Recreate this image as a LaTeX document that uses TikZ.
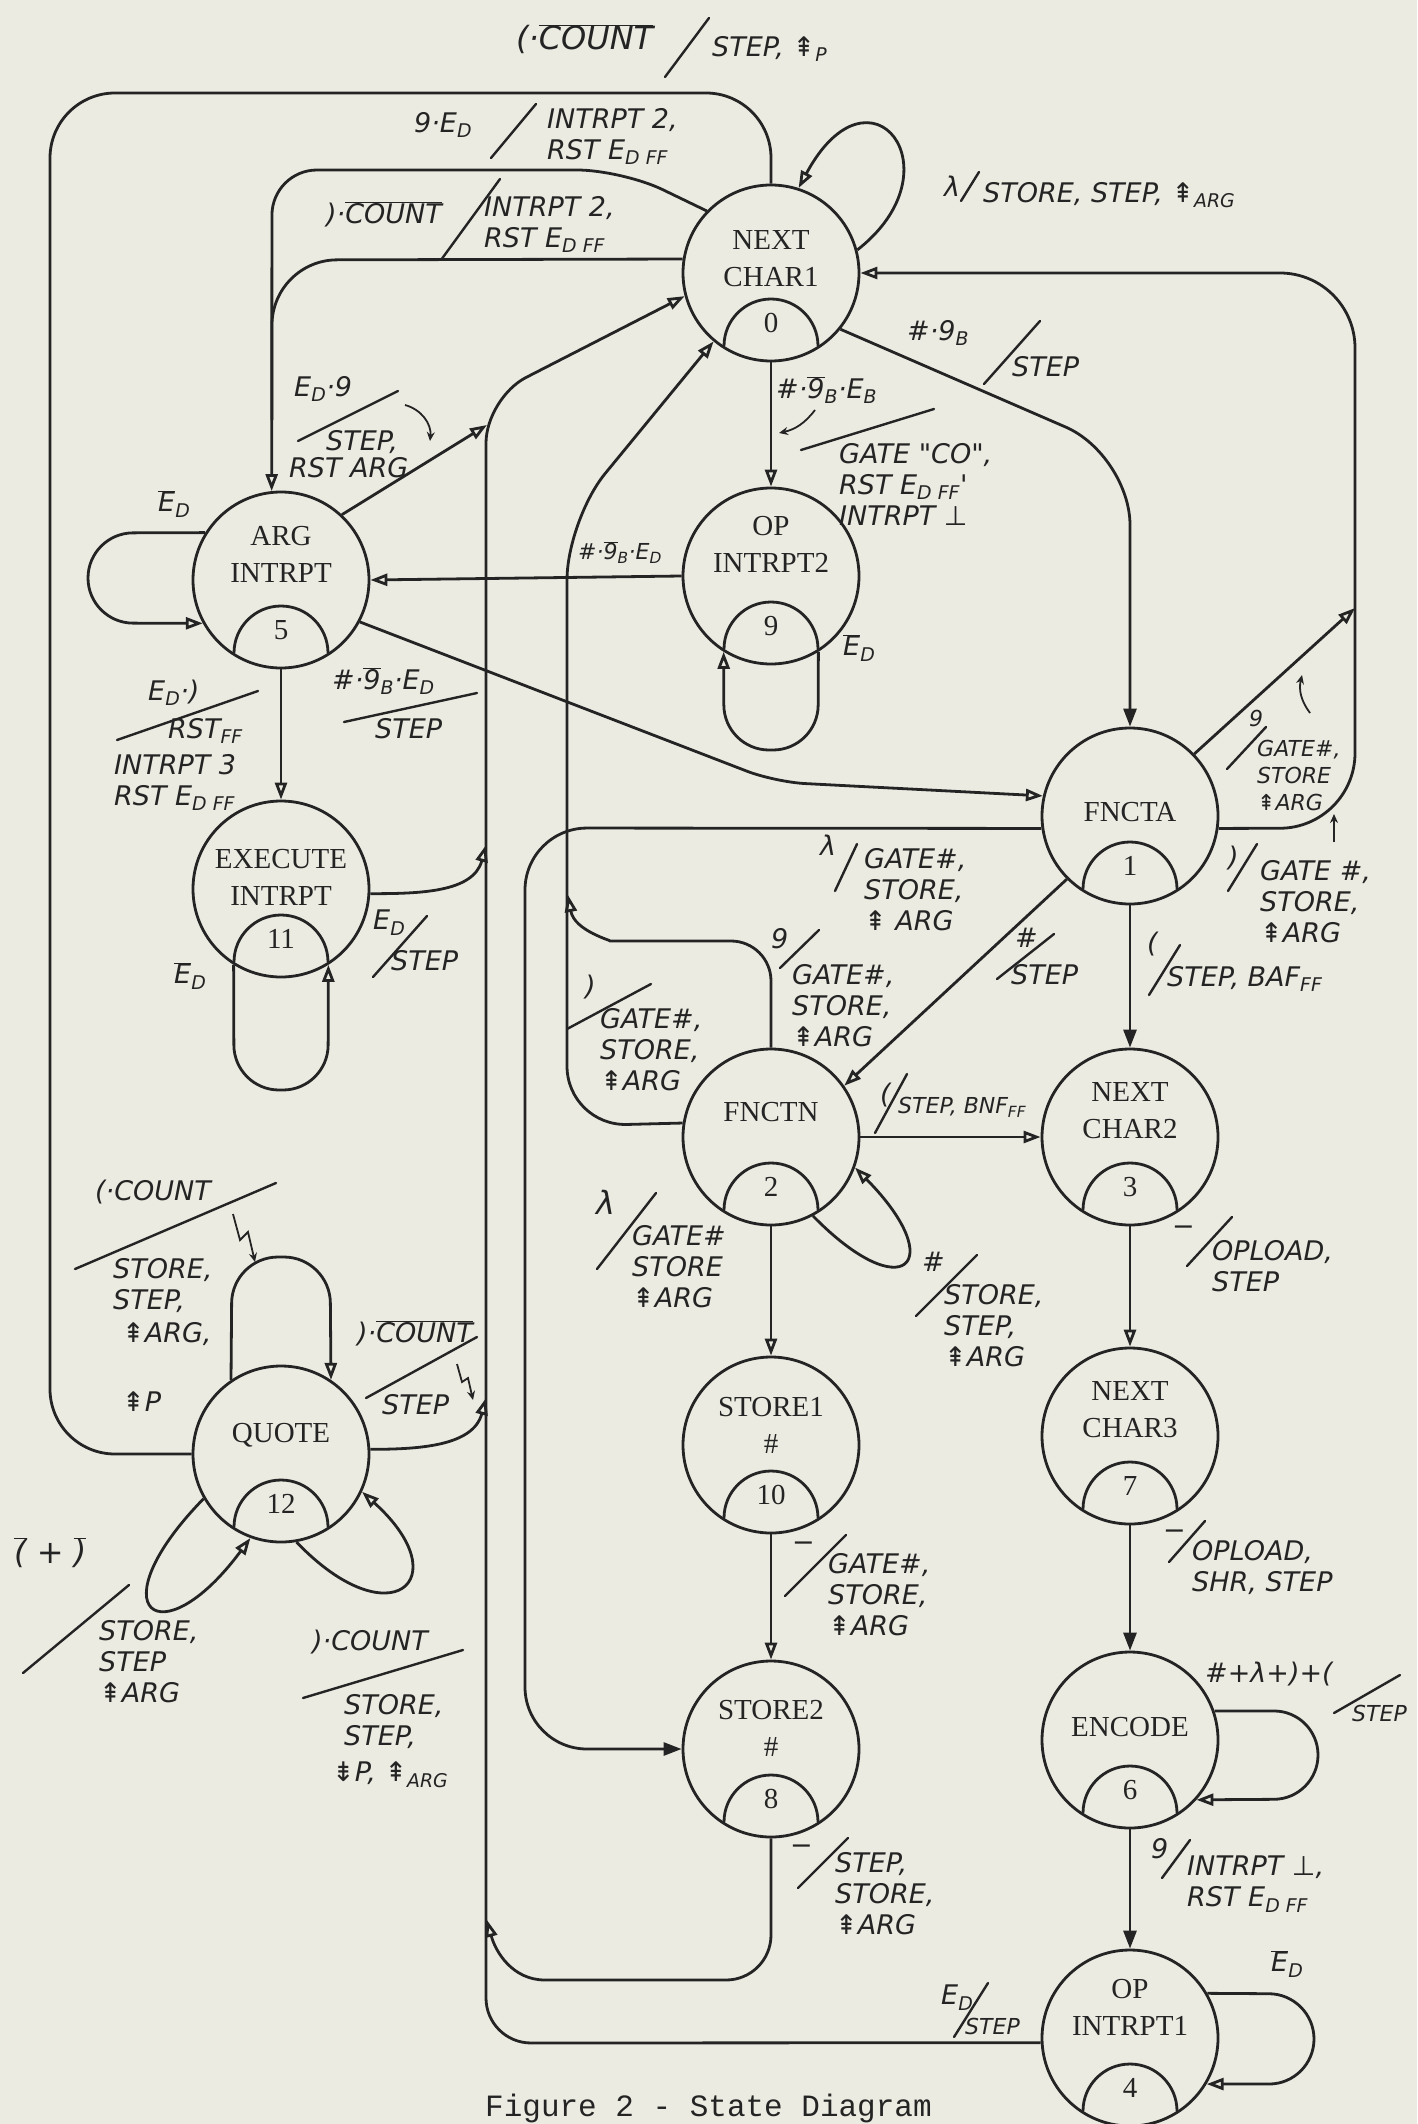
\documentclass[tikz,border=0pt]{standalone}
\usepackage{fontspec}
\setmainfont{Liberation Serif}
\newfontfamily\handfont{DejaVu Sans}
\newfontfamily\capfont{Liberation Mono}
\usetikzlibrary{arrows.meta}
\definecolor{paper}{RGB}{236,235,226}
\definecolor{ink}{RGB}{36,36,36}
\newcommand{\lsub}[1]{\textsubscript{#1}}
\newcommand{\ovl}[1]{$\overline{\mbox{#1}}$}
\newcommand{\incsym}{{\upshape ⇞}}
\newcommand{\decsym}{{\upshape ⇟}}
\newcommand{\perpsym}{{\upshape ⊥}}
\tikzset{
  st/.style={circle, draw=ink, line width=2.8pt, minimum size=176pt, inner sep=0pt},
  sttext/.style={align=center, inner sep=0pt, text=ink, font=\fontsize{29}{37}\selectfont},
  stnum/.style={inner sep=0pt, text=ink, font=\fontsize{29}{35}\selectfont},
  ln/.style={draw=ink, line width=2.8pt},
  arr/.style={ln, -{Triangle[open, length=17pt, width=12pt]}},
  farr/.style={ln, -{Triangle[length=18pt, width=13pt]}},
  lab/.style={anchor=north west, inner sep=0pt, align=left, text=ink, font=\handfont\itshape\fontsize{27}{31}\selectfont},
  labs/.style={lab, font=\handfont\itshape\fontsize{22}{27}\selectfont},
  labl/.style={lab, font=\handfont\itshape\fontsize{32}{36}\selectfont},
  sl/.style={draw=ink, line width=2.4pt, line cap=round},
  ptr/.style={draw=ink, line width=1.8pt, -{Stealth[length=9pt, width=8pt]}},
}
\newcommand{\mkstate}[5]{%
  \node[st] (#1) at (#2) {};
  \node[sttext] (#1t) at ([yshift=#5pt]#1.center) {#3};
  \draw[ln] ([shift={(-47pt,-73pt)}]#1.center) arc[start angle=180,end angle=0,radius=47pt];
  \node[stnum] (#1n) at ([yshift=-50pt]#1.center) {#4};
}
\begin{document}
\begin{tikzpicture}[x=1pt,y=-1pt]
\path[use as bounding box, fill=paper] (0,0) rectangle (1417,2124);

% ---------- states ----------
\mkstate{s0}{771,273}{NEXT\\CHAR1}{0}{14}
\mkstate{s9}{771,576}{OP\\INTRPT2}{9}{32}
\mkstate{s5}{281,580}{ARG\\INTRPT}{5}{26}
\mkstate{s11}{281,889}{EXECUTE\\INTRPT}{11}{12}
\mkstate{s12}{281,1454}{QUOTE}{12}{19}
\mkstate{s1}{1130,816}{FNCTA}{1}{4}
\mkstate{s2}{771,1137}{FNCTN}{2}{25}
\mkstate{s3}{1130,1137}{NEXT\\CHAR2}{3}{26}
\mkstate{s10}{771,1445}{STORE1\\\#}{10}{20}
\mkstate{s7}{1130,1436}{NEXT\\CHAR3}{7}{26}
\mkstate{s8}{771,1749}{STORE2\\\#}{8}{21}
\mkstate{s6}{1130,1740}{ENCODE}{6}{13}
\mkstate{s4}{1130,2038}{OP\\INTRPT1}{4}{31}

% ---------- junction points ----------
\coordinate (M1) at (272,420);
\coordinate (J1) at (487,425);
\coordinate (J2) at (486,845);
\coordinate (J3) at (486,1398);
\coordinate (J4) at (487,1920);
\coordinate (J5) at (568,895);
\coordinate (J6) at (1355,608);

% ---------- connectors ----------
\draw[ln, rounded corners=65pt] (s12.west) -- (50,1454) -- (50,93) -- (771,93) -- (s0.north);
\draw[arr, rounded corners=45pt] (s0.136) -- (622,170) -- (272,170) -- (s5.96);
\draw[ln, rounded corners=65pt] (s0.171) -- (272,260) -- (M1);
\draw[arr] (s5.47) -- (J1);
\draw[arr, rounded corners=45pt] (s4.183) -- (486,2043) -- (486,398) -- (s0.195);
\draw[arr] (s11.-3) to[out=0,in=-105] (J2);
\draw[arr] (s12.3) to[out=0,in=-105] (J3);
\draw[arr] (s8.south) -- (771,1935) to[out=-90,in=0] (726,1980) -- (545,1980) to[out=180,in=-75] (J4);
\draw[farr, rounded corners=62pt] (s1.188) -- (525,828) -- (525,1749) -- (s8.west);
\draw[arr, rounded corners=60pt] (s2.171) -- (567,1126) -- (567,520) -- (s0.230);
\draw[arr] (s2.north) [rounded corners=40pt] -- (771,941) -- (650,941) [sharp corners] to[out=180,in=-80] (J5);
\draw[arr] (s1.225) -- (s2.35);
\draw[farr] (s1.south) -- (s3.north);
\draw[arr] (s3.south) -- (s7.north);
\draw[farr] (s7.south) -- (s6.north);
\draw[farr] (s6.south) -- (s4.north);
\draw[arr] (s2.east) -- (s3.west);
\draw[arr] (s2.south) -- (s10.north);
\draw[arr] (s10.south) -- (s8.north);
\draw[arr] (s0.south) -- (s9.north);
\draw[arr] (s9.west) -- (s5.east);
\draw[arr] (s5.south) -- (s11.north);
\draw[arr, rounded corners=30pt] (s5.-28) -- (775,782) -- (s1.167);
\draw[farr, rounded corners=70pt] (s0.-39) -- (1130,455) -- (s1.north);
\draw[arr, rounded corners=75pt] (s1.-8) -- (1355,828) -- (1355,273) -- (s0.east);
\draw[arr] (s1.44) -- (J6);
% self loops
\draw[arr] (s0.15) .. controls (960,170) and (870,55) .. (s0.72);
\draw[arr, rounded corners=45pt] (s5.148) -- (88,533) -- (88,623) -- (s5.209);
\draw[arr, rounded corners=45pt] (s11.238) -- (234,1090) -- (328,1090) -- (s11.302);
\draw[arr, rounded corners=45pt] (s9.302) -- (818,750) -- (724,750) -- (s9.238);
\draw[arr, rounded corners=46pt] (s12.124) -- (232,1257) -- (330,1257) -- (s12.56);
\draw[arr] (s12.210) .. controls (95,1610) and (160,1660) .. (s12.250);
\draw[arr] (s12.-80) .. controls (390,1640) and (460,1580) .. (s12.-25);
\draw[arr, rounded corners=44pt] (s6.19) -- (1318,1711) -- (1318,1799) -- (s6.-42);
\draw[arr, rounded corners=45pt] (s4.30) -- (1314,1994) -- (1314,2084) -- (s4.-31);
\draw[arr] (s2.-62) .. controls (903,1308) and (950,1264) .. (s2.-20);

% ---------- labels ----------
% QUOTE -> NEXT CHAR1 (top)
\node[labl] (a1) at (516,24) {(·\ovl{COUNT}};
\draw[sl] (665,77) -- (709,18);
\node[lab] (a2) at (712,36) {STEP, \incsym\lsub{P}};
% 9.ED
\node[lab] (b1) at (414,112) {9·E\lsub{D}};
\draw[sl] (491,158) -- (536,104);
\node[lab] (b2) at (547,108) {INTRPT 2,\\RST E\lsub{D FF}};
% ).COUNT
\node[lab] (c1) at (326,201) {)·\ovl{COUNT}};
\draw[sl] (441,260) -- (500,179);
\node[lab] (c2) at (484,196) {INTRPT 2,\\RST E\lsub{D FF}};
% lambda self loop on 0
\node[lab] (d1) at (944,176) {λ};
\draw[sl] (961,201) -- (979,172);
\node[lab] (d2) at (983,182) {STORE, STEP, \incsym\lsub{ARG}};
% #.9B/STEP
\node[lab] (e1) at (907,320) {\#·9\lsub{B}};
\draw[sl] (984,384) -- (1040,321);
\node[lab] (e2) at (1012,356) {STEP};
% 0 -> 9
\node[lab] (f1) at (776,376) {\#·\ovl{9}\lsub{B}·E\lsub{B}};
\draw[sl] (801,450) -- (934,409);
\draw[ptr] (815,410) to[bend left=20] (779,433);
\node[lab] (f2) at (839,443) {GATE "CO",\\RST E\lsub{D FF}'\\INTRPT \perpsym};
% E_D bar labels
\node[lab] (g1) at (843,634) {\ovl{E}\lsub{D}};
\node[lab] (h1) at (158,490) {\ovl{E}\lsub{D}};
\node[lab] (n1) at (174,962) {\ovl{E}\lsub{D}};
\node[lab] (y1) at (1271,1950) {\ovl{E}\lsub{D}};
% 9 -> 5
\node[labs] (i1) at (578,541) {\#·\ovl{9}\lsub{B}·E\lsub{D}};
% ED.9
\node[lab] (j1) at (294,376) {E\lsub{D}·9};
\draw[sl] (298,441) -- (398,391);
\node[lab] (j2) at (326,430) {STEP,};
\node[lab] (j3) at (289,457) {RST ARG};
\draw[ptr] (405,405) to[bend left=40] (430,441);
% ED.)
\node[lab] (k1) at (148,680) {E\lsub{D}·)};
\draw[sl] (117,740) -- (258,691);
\node[lab] (k2) at (168,718) {RST\lsub{FF}};
\node[lab] (k3) at (114,754) {INTRPT 3\\RST E\lsub{D FF}};
% 5 -> 1
\node[lab] (l1) at (332,667) {\#·\ovl{9}\lsub{B}·E\lsub{D}};
\draw[sl] (344,722) -- (477,693);
\node[lab] (l2) at (375,718) {STEP};
% 11 -> line
\node[lab] (m1) at (373,910) {E\lsub{D}};
\draw[sl] (373,977) -- (427,916);
\node[lab] (m2) at (391,950) {STEP};
% QUOTE top loop
\node[lab] (o1) at (95,1180) {(·COUNT};
\draw[sl] (75,1269) -- (276,1183);
\draw[ptr] (233,1214) -- (240,1240) -- (248,1232) -- (255,1262);
\node[lab] (o2) at (113,1258) {STORE,\\STEP,};
\node[lab] (o3) at (122,1322) {\incsym ARG,};
\node[lab] (o4) at (122,1392) {\incsym P};
% QUOTE -> line
\node[lab] (p1) at (357,1320) {)·\ovl{COUNT}};
\draw[sl] (366,1398) -- (477,1337);
\node[lab] (p2) at (382,1394) {STEP};
\draw[ptr] (457,1364) -- (462,1382) -- (468,1378) -- (473,1400);
% QUOTE bottom-left loop
\node[labl] (q1) at (14,1537) {\ovl{(} + \ovl{)}};
\draw[sl] (23,1673) -- (129,1585);
\node[lab] (q2) at (99,1620) {STORE,\\STEP\\\incsym ARG};
% QUOTE bottom-right loop
\node[lab] (r1) at (312,1630) {)·COUNT};
\draw[sl] (303,1698) -- (463,1650);
\node[lab] (r2) at (344,1694) {STORE,\\STEP,};
\node[lab] (r3) at (332,1762) {\decsym P, \incsym\lsub{ARG}};
% FNCTA lambda -> STORE2
\node[lab] (s1a) at (820,835) {λ};
\draw[sl] (835,891) -- (857,844);
\node[lab] (s1b) at (864,848) {GATE\#,\\STORE,\\\incsym\ ARG};
% FNCTA 9 diagonal
\node[labs] (s1c) at (1249,710) {9};
\draw[sl] (1227,769) -- (1266,727);
\node[labs] (s1d) at (1257,740) {GATE\#,\\STORE\\\incsym ARG};
\draw[ptr] (1310,713) to[bend left=25] (1302,675);
% FNCTA ) loop
\node[lab] (s1e) at (1228,846) {)};
\draw[sl] (1228,891) -- (1257,844);
\node[lab] (s1f) at (1260,860) {GATE \#,\\STORE,\\\incsym ARG};
\draw[ptr] (1334,842) -- (1334,814);
% FNCTA ( -> NEXT CHAR2
\node[lab] (s1g) at (1147,932) {(};
\draw[sl] (1149,995) -- (1180,945);
\node[lab] (s1h) at (1167,966) {STEP, BAF\lsub{FF}};
% FNCTA # -> FNCTN
\node[lab] (s1i) at (1015,928) {\#};
\draw[sl] (997,979) -- (1054,934);
\node[lab] (s1j) at (1011,964) {STEP};
% FNCTN 9
\node[lab] (t1) at (771,928) {9};
\draw[sl] (780,968) -- (819,930);
\node[lab] (t2) at (792,964) {GATE\#,\\STORE,\\\incsym ARG};
% FNCTN )
\node[lab] (t3) at (585,975) {)};
\draw[sl] (567,1029) -- (651,984);
\node[lab] (t4) at (600,1008) {GATE\#,\\STORE,\\\incsym ARG};
% FNCTN ( -> NEXT CHAR2
\node[lab] (t5) at (880,1083) {(};
\draw[sl] (875,1133) -- (907,1074);
\node[labs] (t6) at (898,1097) {STEP, BNF\lsub{FF}};
% FNCTN # loop
\node[lab] (t7) at (922,1252) {\#};
\draw[sl] (916,1316) -- (977,1255);
\node[lab] (t8) at (944,1284) {STORE,\\STEP,\\\incsym ARG};
% FNCTN lambda -> STORE1
\node[labl] (t9) at (596,1190) {λ};
\draw[sl] (597,1269) -- (656,1193);
\node[lab] (t10) at (632,1225) {GATE\#\\STORE\\\incsym ARG};
% NEXT CHAR2 -> NEXT CHAR3
\node[lab] (u1) at (1172,1226) {−};
\draw[sl] (1187,1266) -- (1232,1217);
\node[lab] (u2) at (1212,1240) {OPLOAD,\\STEP};
% NEXT CHAR3 -> ENCODE
\node[lab] (v1) at (1163,1530) {−};
\draw[sl] (1169,1562) -- (1205,1521);
\node[lab] (v2) at (1192,1540) {OPLOAD,\\SHR, STEP};
% ENCODE loop
\node[lab] (w1) at (1205,1662) {\#+λ+)+(};
\draw[sl] (1334,1713) -- (1400,1675);
\node[labs] (w2) at (1352,1705) {STEP};
% ENCODE -> OP INTRPT1
\node[lab] (x1) at (1151,1838) {9};
\draw[sl] (1162,1878) -- (1190,1840);
\node[lab] (x2) at (1187,1856) {INTRPT \perpsym,\\RST E\lsub{D FF}};
% OP INTRPT1 -> line
\node[lab] (z1) at (941,1985) {E\lsub{D}};
\draw[sl] (954,2037) -- (988,1983);
\node[labs] (z2) at (965,2018) {STEP};
% STORE1 -> STORE2
\node[lab] (aa1) at (792,1542) {−};
\draw[sl] (785,1596) -- (846,1535);
\node[lab] (aa2) at (828,1553) {GATE\#,\\STORE,\\\incsym ARG};
% STORE2 -> line
\node[lab] (ab1) at (790,1845) {−};
\draw[sl] (798,1888) -- (848,1838);
\node[lab] (ab2) at (835,1852) {STEP,\\STORE,\\\incsym ARG};
% caption
\node[anchor=north west, inner sep=0pt, text=ink, font=\capfont\fontsize{31}{31}\selectfont] (cap) at (485,2094) {Figure 2 - State Diagram};
\end{tikzpicture}
\end{document}
